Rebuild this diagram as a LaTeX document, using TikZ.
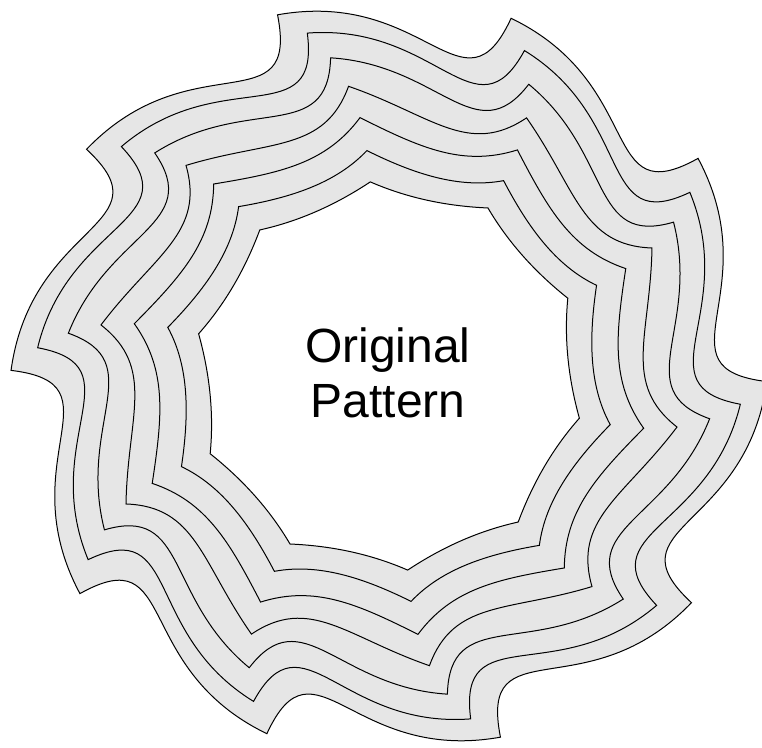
\documentclass[tikz,border=0pt]{standalone}
\usepackage{fontspec}
\setmainfont{Liberation Sans}
\usetikzlibrary{calc}
\definecolor{RingGray}{RGB}{230,230,230}
\tikzset{
  ringline/.style={draw=black,line width=0.5pt},
  ringfill/.style={fill=RingGray,even odd rule},
  labeltext/.style={font=\fontsize{24}{27.5}\selectfont,align=center,inner sep=0pt},
}
% one closed wavy loop: radius, twist, out angle, in angle, out length, in length
\newcommand{\wavyloop}[6]{%
  ({95.5+#2}:#1)
  \foreach \j in {1,...,9}{
    .. controls +({5.5+#2-36*(\j-1)+#3}:{#5*#1}) and +({185.5+#2-36*\j+#4}:{#6*#1}) .. ({95.5+#2-36*\j}:#1)
  }
  .. controls +({5.5+#2-324+#3}:{#5*#1}) and ($({95.5+#2}:#1)+({185.5+#2+#4}:{#6*#1})$) .. cycle}

\begin{document}
\begin{tikzpicture}[x=0.5pt,y=0.5pt]
  \useasboundingbox (-389,-372) rectangle (373,376);
  % band between outer and inner loop
  \path[ringfill] \wavyloop{378}{11.65}{-7}{84}{0.40}{0.30}
                  \wavyloop{195}{0}{-29}{28}{0.21}{0.21};
  % the seven loops
  \foreach \R/\tw/\ds/\de/\la/\lb in {195/0/-29/28/0.21/0.21,
      226.5/0.1/-32/41/0.23/0.20, 260/0.9/-33/47/0.26/0.22,
      292.5/2.45/-27/62/0.30/0.24, 323.5/4.9/-14/78/0.34/0.27,
      352.5/7.9/-9/84/0.37/0.29, 378/11.65/-7/84/0.40/0.30}{
    \draw[ringline] \wavyloop{\R}{\tw}{\ds}{\de}{\la}{\lb};
  }
  \node[labeltext] (label) at (-1,3) {Original\\Pattern};
\end{tikzpicture}
\end{document}
